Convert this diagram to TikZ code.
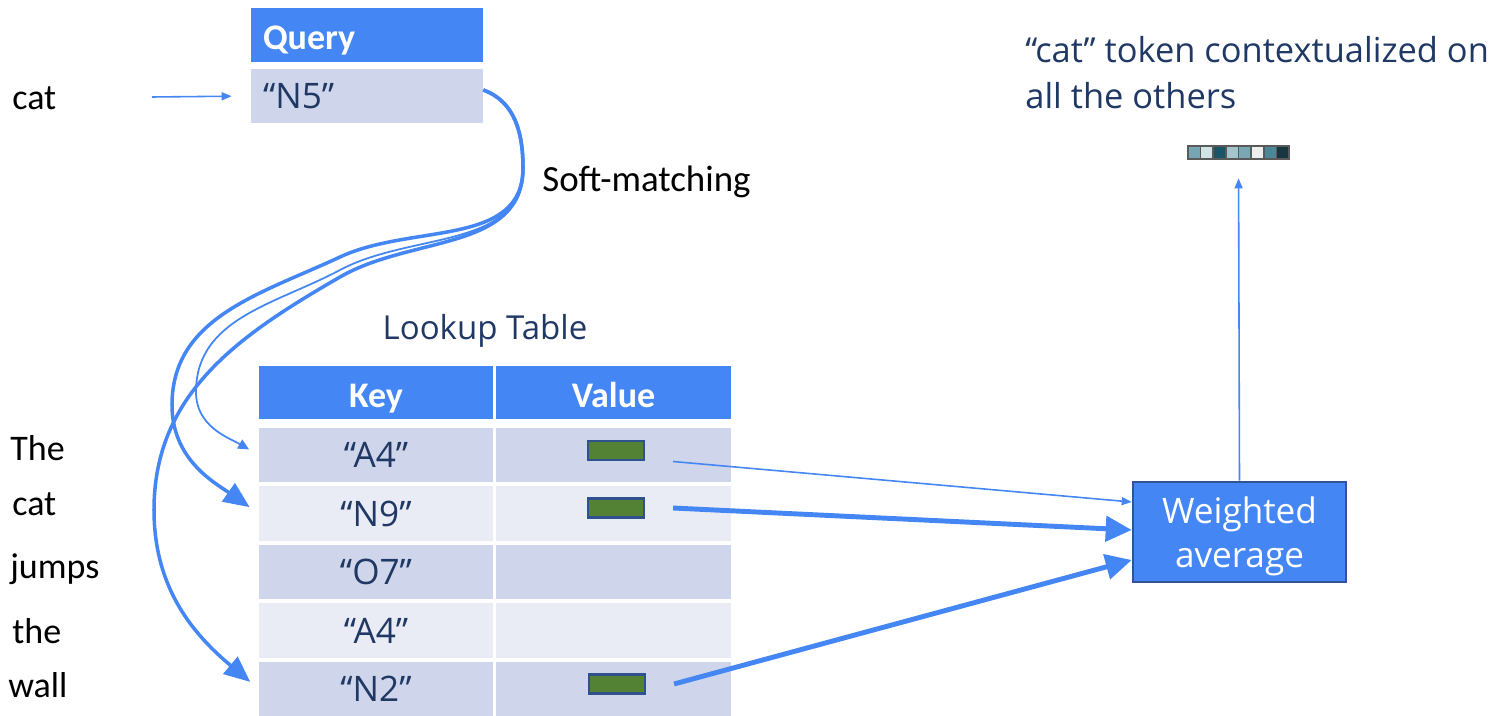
\documentclass[tikz,border=0pt]{standalone}
\usepackage{fontspec}
\setmainfont{Carlito}
\newfontfamily\segfont{Open Sans}
\definecolor{SlideBlue}{HTML}{4486F4}
\definecolor{SlideNavy}{HTML}{203864}
\definecolor{RowDark}{HTML}{CFD5EA}
\definecolor{RowLight}{HTML}{E9EBF5}
\definecolor{ValGreen}{HTML}{548235}
\definecolor{ValEdge}{HTML}{2F528F}
\definecolor{AvgEdge}{HTML}{2F5597}
\definecolor{VecGray}{HTML}{5A5A5A}
\definecolor{VecA}{HTML}{76A5B3}
\definecolor{VecB}{HTML}{D2E3E5}
\definecolor{VecC}{HTML}{1B5565}
\definecolor{VecD}{HTML}{A4C5CC}
\definecolor{VecE}{HTML}{79A8B4}
\definecolor{VecF}{HTML}{EEEEEE}
\definecolor{VecG}{HTML}{4A8797}
\definecolor{VecH}{HTML}{17363F}
\usetikzlibrary{arrows.meta, positioning}

\begin{document}
\begin{tikzpicture}[x=0.02cm, y=0.02cm,
   word/.style={anchor=base west, inner sep=0pt, font=\fontsize{20.5pt}{24pt}\selectfont},
   head/.style={fill=SlideBlue, text=white, minimum height=1.08cm, inner sep=0pt, text height=0.64cm, text depth=0.04cm, font=\bfseries\fontsize{20.5pt}{24pt}\selectfont},
   keycell/.style={minimum width=4.68cm, minimum height=1.1cm, inner sep=0pt, text=SlideNavy, font=\segfont\fontsize{20pt}{24pt}\selectfont},
   valcell/.style={minimum width=4.7cm, minimum height=1.1cm, inner sep=0pt},
   valbar/.style={fill=ValGreen, draw=ValEdge, line width=1.2pt, minimum width=1.12cm, minimum height=0.38cm, inner sep=0pt},
   thinarrow/.style={draw=SlideBlue, line width=0.9pt, -{Triangle[length=0.2cm,width=0.16cm]}},
   thickarrow/.style={draw=SlideBlue, line width=2.8pt, -{Triangle[length=0.52cm,width=0.5cm]}},
   matcharrow/.style={draw=SlideBlue, line width=2pt, -{Triangle[length=0.52cm,width=0.44cm]}, shorten >=0.22cm},
]
   \useasboundingbox (0,0) rectangle (1498,-716);

   % query
   \node[head, minimum width=4.64cm, text width=4.16cm, align=left] (qhead) at (367,-35) {Query};
   \node[keycell, fill=RowDark, minimum width=4.64cm, minimum height=1.08cm, text width=4.16cm, align=left] (qcell) at (367,-96) {“N5”};
   \node[word] (wq) at (12,-110) {cat};
   \coordinate (qin) at (152,-97);
   \draw[thinarrow, shorten >=0.38cm] (qin) -- (qcell.west);
   \node[word, font=\fontsize{21pt}{24pt}\selectfont] (soft) at (542,-192) {Soft-matching};

   % lookup table
   \node[anchor=base, inner sep=0pt, text=SlideNavy, font=\segfont\fontsize{18.8pt}{22pt}\selectfont] (ltitle) at (485,-339) {Lookup Table};
   \node[head, minimum width=4.68cm] (khead) at (376,-392.5) {Key};
   \node[head, minimum width=4.7cm] (vhead) at (613.5,-392.5) {Value};
   \node[keycell, fill=RowDark] (k1) at (376,-455) {“A4”};
   \node[keycell, fill=RowLight] (k2) at (376,-513.5) {“N9”};
   \node[keycell, fill=RowDark] (k3) at (376,-572) {“O7”};
   \node[keycell, fill=RowLight] (k4) at (376,-630.5) {“A4”};
   \node[keycell, fill=RowDark] (k5) at (376,-689) {“N2”};
   \node[valcell, fill=RowDark] (v1) at (613.5,-455) {};
   \node[valcell, fill=RowLight] (v2) at (613.5,-513.5) {};
   \node[valcell, fill=RowDark] (v3) at (613.5,-572) {};
   \node[valcell, fill=RowLight] (v4) at (613.5,-630.5) {};
   \node[valcell, fill=RowDark] (v5) at (613.5,-689) {};
   \node[valbar] (g1) at (616,-450.5) {};
   \node[valbar] (g2) at (616,-508) {};
   \node[valbar] (g5) at (617,-684) {};

   % sentence
   \node[word] (w1) at (10,-460) {The};
   \node[word] (w2) at (12,-515) {cat};
   \node[word] (w3) at (10,-578) {jumps};
   \node[word] (w4) at (12,-643) {the};
   \node[word] (w5) at (8,-697) {wall};

   % soft-matching
   \draw[matcharrow, line width=1pt, -{Triangle[length=0.22cm,width=0.2cm]}] ([yshift=0.12cm]qcell.east) to[out=-20,in=90] (523,-168) to[out=-90,in=28] (340,-270) to[out=208,in=90] (196,-392) to[out=-90,in=150] (k1.west);
   \draw[matcharrow] ([yshift=0.12cm]qcell.east) to[out=-20,in=90] (523,-168) to[out=-90,in=25] (340,-257) to[out=205,in=90] (172,-405) to[out=-90,in=145] (k2.west);
   \draw[matcharrow] ([yshift=0.12cm]qcell.east) to[out=-20,in=90] (523,-168) to[out=-90,in=30] (340,-277) to[out=210,in=90] (154,-510) to[out=-90,in=140] (k5.west);

   % weighted average
   \node[fill=SlideBlue, draw=AvgEdge, line width=1.5pt, minimum width=4.26cm, minimum height=2cm, inner sep=0pt, align=center, text=white, font=\segfont\fontsize{20pt}{25pt}\selectfont] (wavg) at (1239.5,-532) {\rule{0pt}{0.7cm}Weighted\\average};
   \draw[thinarrow] ([xshift=0.56cm,yshift=-0.22cm]g1.east) -- ([yshift=0.6cm]wavg.west);
   \draw[thickarrow] ([xshift=0.56cm]g2.east) -- ([yshift=0.04cm]wavg.west);
   \draw[thickarrow] ([xshift=0.56cm]g5.east) -- ([yshift=-0.56cm]wavg.west);

   % output vector
   \node[minimum width=2.02cm, minimum height=0.26cm, inner sep=0pt] (vec) at (1238.5,-152.5) {};
   \foreach \c [count=\i from 0] in {VecA,VecB,VecC,VecD,VecE,VecF,VecG,VecH}
      \filldraw[fill=\c, draw=VecGray, line width=0.9pt] (1188+\i*12.625,-146) rectangle ++(12.625,-13);
   \draw[thinarrow, shorten >=0.38cm] (wavg.north) -- (vec.south);
   \node[anchor=north west, inner sep=0pt, align=left, text=SlideNavy, font=\segfont\fontsize{19.6pt}{26.2pt}\selectfont] (ctx) at (1025,-36) {“cat” token contextualized on\\all the others};
\end{tikzpicture}
\end{document}
